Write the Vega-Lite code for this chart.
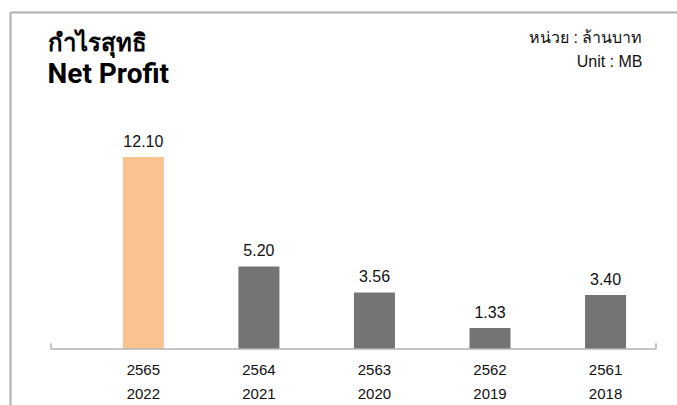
{
  "$schema": "https://vega.github.io/schema/vega-lite/v6.json",
  "width": 667,
  "height": 393,
  "autosize": {"type": "none"},
  "padding": {"left": 10, "top": 12, "right": 0, "bottom": 0},
  "background": "white",
  "config": {
    "view": {"stroke": null},
    "font": "Liberation Sans"
  },
  "resolve": {"scale": {"x": "independent"}, "axis": {"x": "independent"}},
  "layer": [
    {
      "data": {
        "values": [
          {"label": "2565|2022", "value": 12.10},
          {"label": "2564|2021", "value": 5.20},
          {"label": "2563|2020", "value": 3.56},
          {"label": "2562|2019", "value": 1.33},
          {"label": "2561|2018", "value": 3.40}
        ]
      },
      "encoding": {
        "x": {
          "field": "label",
          "type": "nominal",
          "sort": null,
          "scale": {"type": "band", "paddingInner": 0.645, "paddingOuter": 0.7087, "align": 0.689},
          "axis": {
            "orient": "bottom",
            "offset": -56,
            "title": "Net Profit",
            "titleX": 37,
            "titleY": -267,
            "titleAlign": "left",
            "titleBaseline": "alphabetic",
            "titleAnchor": "start",
            "titleFont": "Roboto",
            "titleFontSize": 28,
            "titleFontWeight": "bold",
            "titleColor": "#000000",
            "domain": false,
            "ticks": false,
            "grid": false,
            "labelAngle": 0,
            "labelExpr": "split(datum.value, '|')",
            "labelFont": "Liberation Sans",
            "labelFontSize": 15,
            "labelColor": "#111111",
            "labelBaseline": "alphabetic",
            "labelLineHeight": 24,
            "labelPadding": 25
          }
        },
        "y": {
          "field": "value",
          "type": "quantitative",
          "scale": {"domain": [-3.529, 21.235], "nice": false, "zero": false},
          "axis": {
            "orient": "left",
            "domain": true,
            "domainColor": "#b0b0b0",
            "domainWidth": 2,
            "ticks": false,
            "labels": false,
            "grid": false,
            "title": "กำไรสุทธิ",
            "titleAngle": 0,
            "titleAlign": "left",
            "titleBaseline": "alphabetic",
            "titleX": 37,
            "titleY": 38,
            "titleFont": "Roboto",
            "titleFontSize": 24,
            "titleFontWeight": "bold",
            "titleColor": "#000000"
          }
        }
      },
      "layer": [
        {
          "mark": {"type": "bar"},
          "encoding": {
            "color": {
              "condition": {"test": "datum.label === '2565|2022'", "value": "#F9C391"},
              "value": "#747477"
            }
          }
        },
        {
          "mark": {"type": "text", "dy": -10, "baseline": "alphabetic", "fontSize": 16, "font": "Liberation Sans", "color": "#111111"},
          "encoding": {
            "text": {"field": "value", "type": "quantitative", "format": ".2f"}
          }
        }
      ]
    },
    {
      "data": {"values": [{}]},
      "layer": [
        {
          "mark": {"type": "rule", "color": "#b3b3b3", "strokeWidth": 1.5},
          "encoding": {
            "x": {
              "datum": 0.201,
              "type": "quantitative",
              "scale": {"domain": [-0.1536, 5.6188], "nice": false, "zero": false},
              "axis": {
                "orient": "top",
                "domain": true,
                "domainColor": "#b0b0b0",
                "domainWidth": 2,
                "ticks": false,
                "labels": false,
                "grid": false,
                "title": ["หน่วย : ล้านบาท", "Unit : MB"],
                "titleAlign": "right",
                "titleBaseline": "alphabetic",
                "titleX": 632,
                "titleY": 30,
                "titleFont": "Liberation Sans",
                "titleFontSize": 16,
                "titleFontWeight": "normal",
                "titleColor": "#111111",
                "titleLineHeight": 24
              }
            },
            "x2": {"datum": 5.437},
            "y": {"datum": 0, "type": "quantitative"}
          }
        },
        {
          "mark": {"type": "rule", "color": "#b3b3b3", "strokeWidth": 1.5},
          "encoding": {
            "x": {"datum": 0.201, "type": "quantitative"},
            "y": {"datum": 0, "type": "quantitative"},
            "y2": {"datum": 0.36}
          }
        },
        {
          "mark": {"type": "rule", "color": "#b3b3b3", "strokeWidth": 1.5},
          "encoding": {
            "x": {"datum": 5.437, "type": "quantitative"},
            "y": {"datum": 0, "type": "quantitative"},
            "y2": {"datum": 0.36}
          }
        }
      ]
    }
  ]
}
